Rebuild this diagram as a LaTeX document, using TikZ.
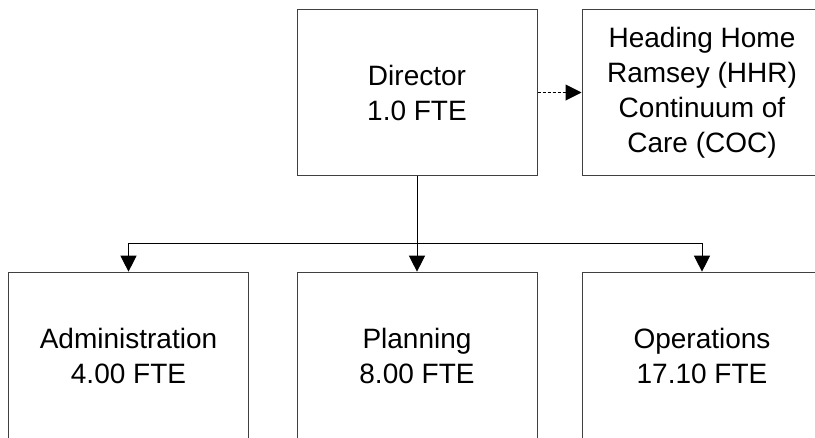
\documentclass[tikz,border=0pt]{standalone}
\usepackage{fontspec}
\setmainfont{Liberation Sans}
\usetikzlibrary{arrows.meta,positioning}

\tikzset{
  orgbox/.style={draw=black!75,line width=0.75pt,minimum width=180pt,minimum height=125pt,
    align=center,inner sep=0pt,font=\fontsize{21}{26.25}\selectfont},
  conn/.style={line width=0.75pt,-{Triangle[length=12pt,width=12pt]}}
}

\begin{document}
\begin{tikzpicture}[x={(0.75pt,0)},y={(0,-0.75pt)}]
\clip (0,0) rectangle (815,437);
% top row
\node[orgbox] (director) at (417,92.5) {Director\\1.0 FTE};
\node[orgbox] (hhr) at (702,92.5) {Heading Home\\Ramsey (HHR)\\Continuum of\\Care (COC)};
% divisions
\foreach \n/\x/\t in {admin/128.5/{Administration\\4.00 FTE},planning/417/{Planning\\8.00 FTE},operations/702/{Operations\\17.10 FTE}} {
  \node[orgbox] (\n) at (\x,355.5) {\t};
}
\coordinate (bus) at (0,243);
\draw[conn] (director) -- (planning);
\draw[conn] (director.south |- bus) -- (admin.north |- bus) -- (admin.north);
\draw[conn] (director.south |- bus) -- (operations.north |- bus) -- (operations.north);
\draw[conn,dash pattern=on 2.25pt off 1.5pt] (director) -- (hhr);
\end{tikzpicture}
\end{document}
